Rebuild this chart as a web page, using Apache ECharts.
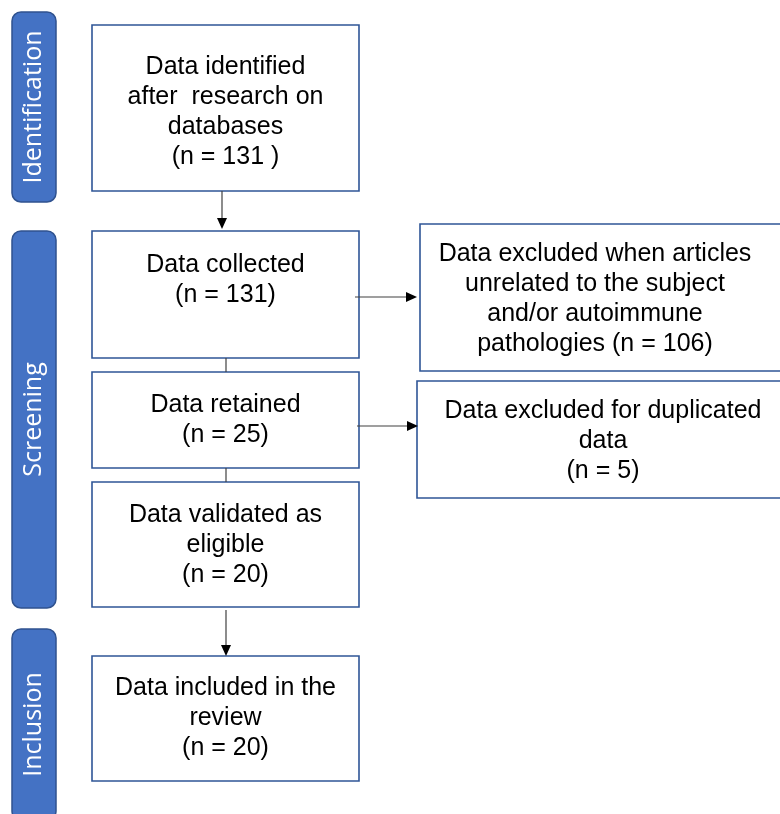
<!DOCTYPE html>
<html>
<head>
<meta charset="utf-8">
<script src="https://cdn.jsdelivr.net/npm/echarts@6/dist/echarts.min.js"></script>
<style>
html,body{margin:0;padding:0;background:#fff;}
#chart{width:780px;height:814px;}
</style>
</head>
<body>
<div id="chart"></div>
<script>
// ---- data ----
const stageLabels = ['Identification', 'Screening', 'Inclusion'];
const mainBoxTexts = [
  'Data identified\nafter  research on\ndatabases',
  'Data collected',
  'Data retained',
  'Data validated as\neligible',
  'Data included in the\nreview'
];
const mainCounts = [131, 131, 25, 20, 20];
const excludedTexts = [
  'Data excluded when articles\nunrelated to the subject\nand/or autoimmune\npathologies',
  'Data excluded for duplicated\ndata\n'
];
const excludedCounts = [106, 5];

// ---- layout (pixel space of the hidden axes) ----
const stageLayout = [[12, 12, 44, 190], [12, 231, 44, 377], [12, 629, 44, 191]];
// x, y, w, h, textCenterY
const mainLayout = [
  [92, 25, 267, 166, 112],
  [92, 231, 267, 127, 280],
  [92, 372, 267, 96, 420],
  [92, 482, 267, 125, 545],
  [92, 656, 267, 125, 718]
];
// x, y, w, h, textCenterX, textCenterY
const excludedLayout = [
  [420, 224, 400, 147, 595, 299],
  [417, 381, 400, 117, 603, 441]
];
// x1, y1, x2, y2, head
const arrowLayout = [
  [222, 191, 222, 229, 1],
  [226, 358, 226, 372, 0],
  [226, 468, 226, 482, 0],
  [226, 610, 226, 656, 1],
  [355, 297, 417, 297, 1],
  [357, 426, 418, 426, 1]
];

const mainLabels = mainBoxTexts.map((t, i) => t + '\n' + (i === 0 ? '(n = ' + mainCounts[i] + ' )' : '(n = ' + mainCounts[i] + ')'));
const excludedLabels = excludedTexts.map((t, i) => t + (i === 0 ? ' ' : '') + '(n = ' + excludedCounts[i] + ')');

const BORDER = '#2F5597';
const BOXFONT = '"Liberation Sans", Arial, sans-serif';

function rectEl(api, x, y, w, h) {
  const p = api.coord([x, y]);
  const s = api.size([w, h]);
  return { x: p[0], y: p[1], width: s[0], height: s[1] };
}

const chart = echarts.init(document.getElementById('chart'));
chart.setOption({
  animation: false,
  grid: { left: 0, right: 0, top: 0, bottom: 0 },
  xAxis: { type: 'value', min: 0, max: 780, show: false },
  yAxis: { type: 'value', min: 0, max: 814, inverse: true, show: false },
  series: [
    {
      type: 'custom',
      name: 'stages',
      data: stageLabels.map((s, i) => [i]),
      renderItem: function (params, api) {
        const i = params.dataIndex;
        const L = stageLayout[i];
        const c = api.coord([L[0] + L[2] / 2, L[1] + L[3] / 2]);
        return {
          type: 'group',
          children: [
            { type: 'rect', shape: Object.assign(rectEl(api, L[0], L[1], L[2], L[3]), { r: 9 }),
              style: { fill: '#4472C4', stroke: '#2F528F', lineWidth: 1.5 } },
            { type: 'text', x: c[0], y: c[1], rotation: Math.PI / 2,
              style: { text: stageLabels[i], x: 0, y: 0, align: 'center', verticalAlign: 'middle',
                fontSize: 25, fontFamily: '"Open Sans", sans-serif', fill: '#ffffff' } }
          ]
        };
      }
    },
    {
      type: 'custom',
      name: 'main',
      data: mainLabels.map((s, i) => [i]),
      renderItem: function (params, api) {
        const i = params.dataIndex;
        const L = mainLayout[i];
        const c = api.coord([L[0] + L[2] / 2, L[4]]);
        return {
          type: 'group',
          children: [
            { type: 'rect', shape: rectEl(api, L[0], L[1], L[2], L[3]),
              style: { fill: '#ffffff', stroke: BORDER, lineWidth: 1.6 } },
            { type: 'text', x: c[0], y: c[1],
              style: { text: mainLabels[i], x: 0, y: 0, align: 'center', verticalAlign: 'middle',
                fontSize: 25, lineHeight: 30, fontFamily: BOXFONT, fill: '#000000' } }
          ]
        };
      }
    },
    {
      type: 'custom',
      name: 'excluded',
      data: excludedLabels.map((s, i) => [i]),
      renderItem: function (params, api) {
        const i = params.dataIndex;
        const L = excludedLayout[i];
        const c = api.coord([L[4], L[5]]);
        return {
          type: 'group',
          children: [
            { type: 'rect', shape: rectEl(api, L[0], L[1], L[2], L[3]),
              style: { fill: '#ffffff', stroke: BORDER, lineWidth: 1.6 } },
            { type: 'text', x: c[0], y: c[1],
              style: { text: excludedLabels[i], x: 0, y: 0, align: 'center', verticalAlign: 'middle',
                fontSize: 25, lineHeight: 30, fontFamily: BOXFONT, fill: '#000000' } }
          ]
        };
      }
    },
    {
      type: 'custom',
      name: 'arrows',
      data: arrowLayout.map((a, i) => [i]),
      renderItem: function (params, api) {
        const A = arrowLayout[params.dataIndex];
        const p1 = api.coord([A[0], A[1]]);
        const p2 = api.coord([A[2], A[3]]);
        const children = [];
        const dx = p2[0] - p1[0], dy = p2[1] - p1[1];
        const len = Math.sqrt(dx * dx + dy * dy);
        const ux = dx / len, uy = dy / len;
        const headL = 11, headW = 5;
        const end = A[4] ? [p2[0] - ux * headL, p2[1] - uy * headL] : p2;
        children.push({ type: 'line', shape: { x1: p1[0], y1: p1[1], x2: end[0], y2: end[1] },
          style: { stroke: '#404040', lineWidth: 1.2 } });
        if (A[4]) {
          children.push({ type: 'polygon', shape: { points: [
            [p2[0], p2[1]],
            [end[0] - uy * headW, end[1] + ux * headW],
            [end[0] + uy * headW, end[1] - ux * headW]
          ] }, style: { fill: '#000000' } });
        }
        return { type: 'group', children: children };
      }
    }
  ]
});
</script>
</body>
</html>
